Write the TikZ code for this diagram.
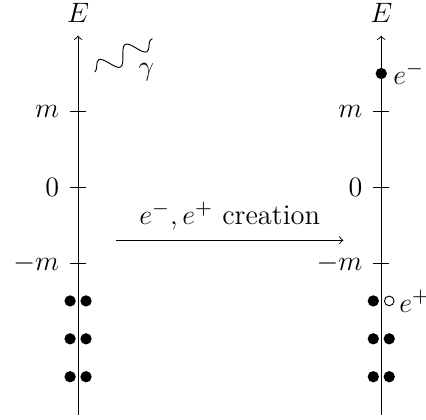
\documentclass[tikz,border=0pt]{standalone}
\usepackage{amsmath}
\usetikzlibrary{positioning,decorations.pathmorphing,calc}

\begin{document}
\begin{tikzpicture}[
    x=1.14cm, y=1.14cm,
    every node/.style={font=\fontsize{12.2pt}{15pt}\selectfont},
    filled/.style={circle, fill=black, inner sep=0pt, minimum size=1.7mm},
    hole/.style={circle, draw=black, thin, inner sep=0pt, minimum size=1.45mm},
    photon/.style={decorate, decoration={snake, amplitude=1.3mm, segment length=4.6mm}},
  ]
  \def\dx{0.105}
  \def\tk{0.105}
  \useasboundingbox (-1.03,-3.06) rectangle (4.59,2.47);

  % ========= AXES =========
  \foreach \ax/\xx in {L/0, R/4} {
    \draw[->] (\xx,-3) -- (\xx,2) node[above, inner sep=5.5pt] (E\ax) {$E$};
    \foreach \yy/\lab/\nm in {1/m/p, 0/0/z, -1/-m/n} {
      \draw (\xx-\tk,\yy) node[left, inner sep=4.5pt] (t\nm\ax) {$\lab$} -- (\xx+\tk,\yy);
    }
  }

  % ========= LEFT: photon and filled sea =========
  \coordinate (ph1) at (0.22,1.52);
  \coordinate (ph2) at (0.98,1.96);
  \draw[photon] (ph1) -- (ph2);
  \node (gam) at (0.9,1.52) {$\gamma$};

  \foreach \yy/\nm in {-1.5/a, -2/b, -2.5/c} {
    \node[filled] (Ll\nm) at (-\dx,\yy) {};
    \node[filled] (Lr\nm) at (\dx,\yy) {};
  }

  % ========= RIGHT: pair created =========
  \node[filled] (elec) at (4,1.5) {};
  \node[right=-1pt of elec] (elab) {$e^-$};

  \node[filled] (Rla) at (4-\dx,-1.5) {};
  \node[hole] (pos) at (4+\dx,-1.5) {};
  \node[right=-1.5pt of pos] (plab) {$e^+$};
  \foreach \yy/\nm in {-2/b, -2.5/c} {
    \node[filled] (Rl\nm) at (4-\dx,\yy) {};
    \node[filled] (Rr\nm) at (4+\dx,\yy) {};
  }

  % ========= TRANSITION =========
  \coordinate (arr1) at (0.5,-0.7);
  \coordinate (arr2) at (3.5,-0.7);
  \draw[->] (arr1) -- (arr2) node[midway, above=1pt] (crea) {$e^-,e^+$ creation};
\end{tikzpicture}
\end{document}
